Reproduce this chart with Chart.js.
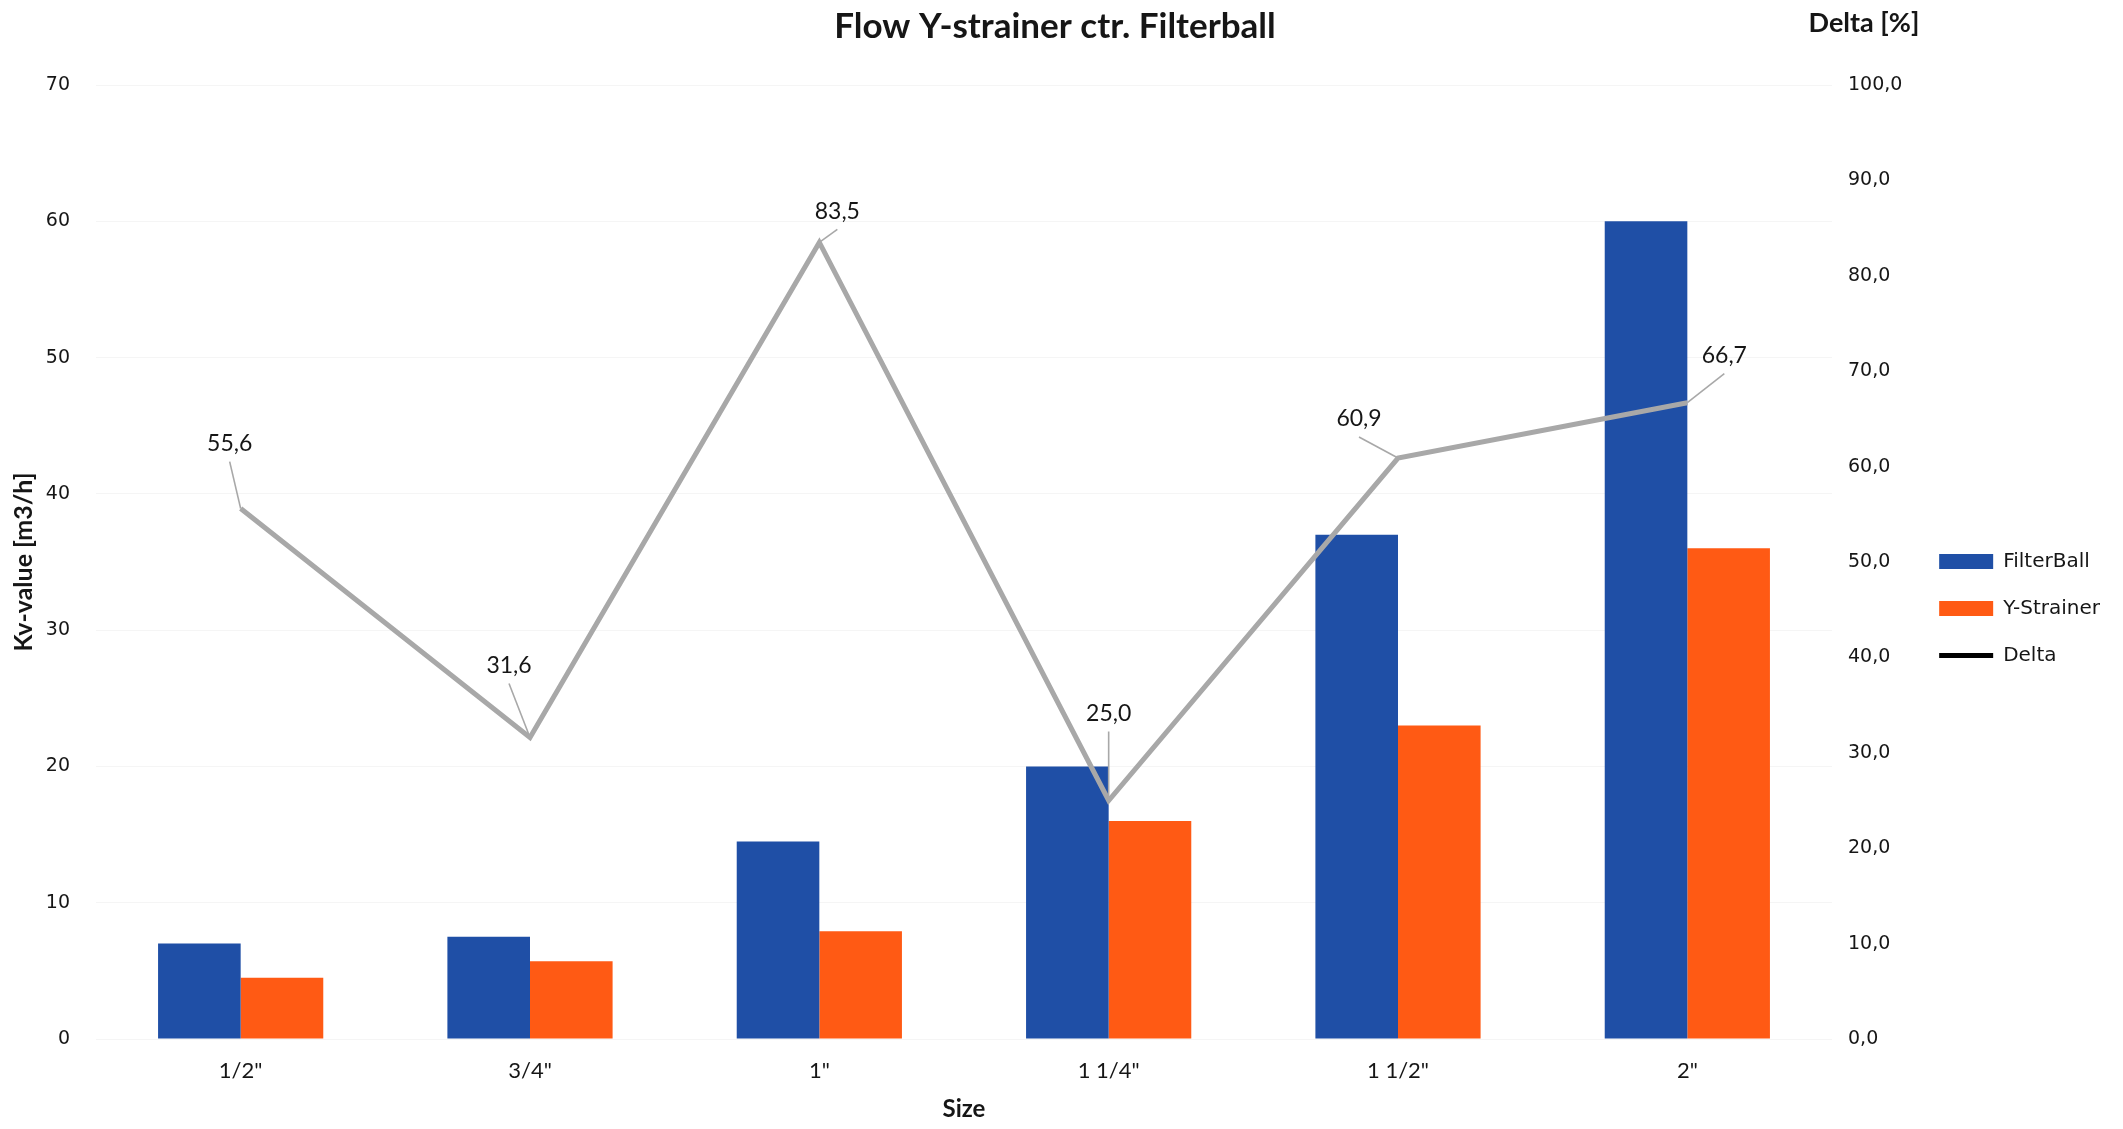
<!DOCTYPE html>
<html>
<head>
<meta charset="utf-8">
<script src="https://cdn.jsdelivr.net/npm/chart.js@4.4.1/dist/chart.umd.min.js"></script>
<style>
  html, body { margin: 0; padding: 0; background: #ffffff; }
  #wrap { width: 2123px; height: 1129px; position: relative; }
</style>
</head>
<body>
<div id="wrap"><canvas id="c" width="2123" height="1129"></canvas></div>
<script>
// ---- data ----
const categories = ['1/2"', '3/4"', '1"', '1 1/4"', '1 1/2"', '2"'];
const filterBall = [7, 7.5, 14.5, 20, 37, 60];
const yStrainer = [4.5, 5.7, 7.9, 16, 23, 36];
const delta = [55.6, 31.6, 83.5, 25.0, 60.9, 66.7];
const leftTicksMax = 70;
const rightTicksMax = 100;

// ---- styles ----
const deltaLabelOffsets = [[-11, -65], [-21, -72], [18, -31], [0, -87], [-39, -39], [37, -47]];
const BLUE = '#1f4fa6';
const ORANGE = '#ff5a14';
const GRAY = '#a8a8a8';
const TEXT = '#161616';
const PLOT_LEFT = 96;
const PLOT_RIGHT = 1832;
const PAD_RIGHT = 13;

const fmtComma = v => Number(v).toFixed(1).replace('.', ',');

const deltaLabels = {
  id: 'deltaLabels',
  afterDatasetsDraw(chart) {
    const meta = chart.getDatasetMeta(2);
    const ctx = chart.ctx;
    ctx.save();
    meta.data.forEach((pt, i) => {
      const [dx, dy] = deltaLabelOffsets[i];
      const lx = pt.x + dx, ly = pt.y + dy;
      ctx.strokeStyle = GRAY;
      ctx.lineWidth = 1.6;
      ctx.beginPath();
      ctx.moveTo(lx, ly + 18);
      ctx.lineTo(pt.x, pt.y);
      ctx.stroke();
      ctx.fillStyle = TEXT;
      ctx.font = '23px Lato';
      ctx.textAlign = 'center';
      ctx.textBaseline = 'middle';
      ctx.fillText(fmtComma(delta[i]), lx, ly);
    });
    ctx.restore();
  }
};

const rightTitle = {
  id: 'rightTitle',
  afterDraw(chart) {
    const ctx = chart.ctx;
    ctx.save();
    ctx.fillStyle = TEXT;
    ctx.font = 'bold 27px Lato';
    ctx.textAlign = 'center';
    ctx.textBaseline = 'middle';
    ctx.fillText('Delta [%]', 1864, 23);
    ctx.restore();
  }
};

new Chart(document.getElementById('c'), {
  type: 'bar',
  data: {
    labels: categories,
    datasets: [
      { label: 'FilterBall', data: filterBall, backgroundColor: BLUE, yAxisID: 'y', order: 2,
        barPercentage: 1, categoryPercentage: 0.571 },
      { label: 'Y-Strainer', data: yStrainer, backgroundColor: ORANGE, yAxisID: 'y', order: 2,
        barPercentage: 1, categoryPercentage: 0.571 },
      { type: 'line', label: 'Delta', data: delta, borderColor: GRAY, backgroundColor: GRAY,
        borderWidth: 5, pointRadius: 0, tension: 0, yAxisID: 'y1', order: 0 }
    ]
  },
  options: {
    responsive: false,
    animation: false,
    layout: { padding: { top: 0, bottom: 0, left: 0, right: PAD_RIGHT } },
    plugins: {
      tooltip: { enabled: false },
      title: {
        display: true,
        text: 'Flow Y-strainer ctr. Filterball',
        color: TEXT,
        font: { family: 'Lato', size: 35, weight: 'bold' },
        padding: { top: 6, bottom: 37 }
      },
      legend: {
        position: 'right',
        align: 'center',
        title: { display: true, text: ' ', font: { size: 10 }, padding: { top: 38, bottom: 38 } },
        labels: {
          color: TEXT,
          font: { family: 'DejaVu Sans', size: 20 },
          usePointStyle: true,
          pointStyleWidth: 54,
          boxHeight: 15,
          padding: 27,
          generateLabels(chart) {
            return [
              { text: 'FilterBall', fillStyle: BLUE, strokeStyle: BLUE, lineWidth: 0, pointStyle: 'rect', datasetIndex: 0, fontColor: TEXT },
              { text: 'Y-Strainer', fillStyle: ORANGE, strokeStyle: ORANGE, lineWidth: 0, pointStyle: 'rect', datasetIndex: 1, fontColor: TEXT },
              { text: 'Delta', fillStyle: '#000', strokeStyle: '#000', lineWidth: 5, pointStyle: 'line', datasetIndex: 2, fontColor: TEXT }
            ];
          }
        }
      }
    },
    scales: {
      x: {
        grid: { display: false, drawTicks: false },
        border: { display: false },
        ticks: { color: TEXT, font: { family: 'Lato', size: 22 }, padding: 19 },
        title: { display: true, text: 'Size', color: TEXT, font: { family: 'Lato', size: 24, weight: 'bold' }, padding: { top: 0, bottom: 5 } },
        afterFit(s) { s.height = 90; }
      },
      y: {
        position: 'left',
        min: 0, max: leftTicksMax,
        grid: { color: '#f5f5f5', lineWidth: 1, drawTicks: false },
        border: { display: false },
        ticks: { stepSize: 10, color: TEXT, font: { family: 'DejaVu Sans', size: 19 }, padding: 26 },
        title: { display: true, text: 'Kv-value [m3/h]', color: TEXT, font: { family: 'Lato', size: 25, weight: 'bold' }, padding: { top: 9, bottom: 0 } },
        afterFit(s) { s.width = PLOT_LEFT; }
      },
      y1: {
        position: 'right',
        min: 0, max: rightTicksMax,
        grid: { display: false, drawTicks: false },
        border: { display: false },
        ticks: { stepSize: 10, color: TEXT, font: { family: 'DejaVu Sans', size: 19 }, padding: 16, callback: v => fmtComma(v) },
        afterFit(s) {
          const lw = s.chart.legend ? s.chart.legend.width : 0;
          s.width = s.chart.width - PLOT_RIGHT - lw - PAD_RIGHT;
        }
      }
    }
  },
  plugins: [deltaLabels, rightTitle]
});
</script>
</body>
</html>
